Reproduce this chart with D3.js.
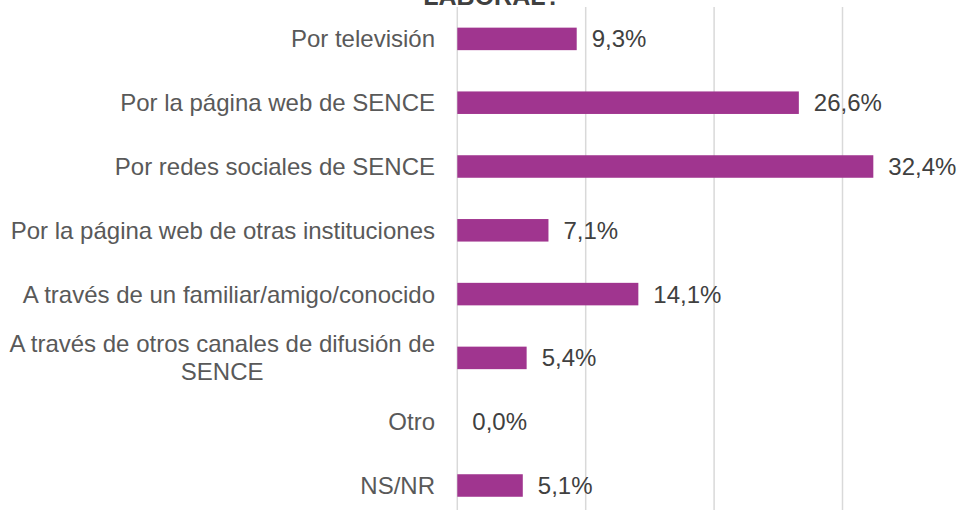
<!DOCTYPE html>
<html>
<head>
<meta charset="utf-8">
<script src="https://cdn.jsdelivr.net/npm/d3@7"></script>
<style>
  body { margin: 0; background: #fff; }
  svg { display: block; font-family: "Liberation Sans", Arial, sans-serif; }
</style>
</head>
<body>
<svg id="chart" width="958" height="510"></svg>
<script>
const width = 958;
const height = 510;

// Données
const categories = [
  "Por televisión",
  "Por la página web de SENCE",
  "Por redes sociales de SENCE",
  "Por la página web de otras instituciones",
  "A través de un familiar/amigo/conocido",
  "A través de otros canales de difusión de|SENCE",
  "Otro",
  "NS/NR"
];
const values = [9.3, 26.6, 32.4, 7.1, 14.1, 5.4, 0.0, 5.1];
const gridTicks = [0, 10, 20, 30, 40];
const titleText = "LABORAL?";

const svg = d3.select("#chart");

const x = d3.scaleLinear()
  .domain([0, 40])
  .range([457.3, 457.3 + 40 * 12.84]);

const y = d3.scaleBand()
  .domain(categories)
  .range([7, 517.4])
  .paddingInner(0.647)
  .paddingOuter(0.3235);

// Titre (coupé en haut)
svg.append("text")
  .attr("x", 492)
  .attr("y", 4.5)
  .attr("text-anchor", "middle")
  .attr("font-size", "25px")
  .attr("font-weight", "bold")
  .attr("fill", "#404040")
  .text(titleText);

// Lignes de grille
svg.append("g")
  .selectAll("line")
  .data(gridTicks)
  .enter().append("line")
  .attr("x1", d => x(d))
  .attr("x2", d => x(d))
  .attr("y1", 7)
  .attr("y2", height)
  .attr("stroke", "#d9d9d9")
  .attr("stroke-width", 1.5);

// Barres
svg.append("g")
  .selectAll("rect")
  .data(values)
  .enter().append("rect")
  .attr("x", x(0))
  .attr("y", (d, i) => y(categories[i]))
  .attr("width", d => x(d) - x(0))
  .attr("height", y.bandwidth())
  .attr("fill", "#a0358f");

// Étiquettes de valeur
svg.append("g")
  .selectAll("text")
  .data(values)
  .enter().append("text")
  .attr("x", d => x(d) + 15)
  .attr("y", (d, i) => y(categories[i]) + y.bandwidth() / 2)
  .attr("dy", "0.35em")
  .attr("font-size", "24px")
  .attr("fill", "#404040")
  .text(d => d.toFixed(1).replace(".", ",") + "%");

// Étiquettes des catégories
const labelRight = 435;
const lineHeight = 28.3;
const labels = svg.append("g")
  .selectAll("text")
  .data(categories)
  .enter().append("text")
  .attr("font-size", "24px")
  .attr("fill", "#595959");

labels.each(function(d) {
  const t = d3.select(this);
  const lines = d.split("|");
  const cy = y(d) + y.bandwidth() / 2;
  const spans = lines.map((line, i) => t.append("tspan")
    .attr("y", cy + (i - (lines.length - 1) / 2) * lineHeight)
    .attr("dy", "0.35em")
    .text(line));
  const maxW = d3.max(spans, s => s.node().getComputedTextLength());
  spans.forEach(s => {
    if (lines.length > 1) {
      s.attr("x", labelRight - maxW / 2).attr("text-anchor", "middle");
    } else {
      s.attr("x", labelRight).attr("text-anchor", "end");
    }
  });
});
</script>
</body>
</html>
